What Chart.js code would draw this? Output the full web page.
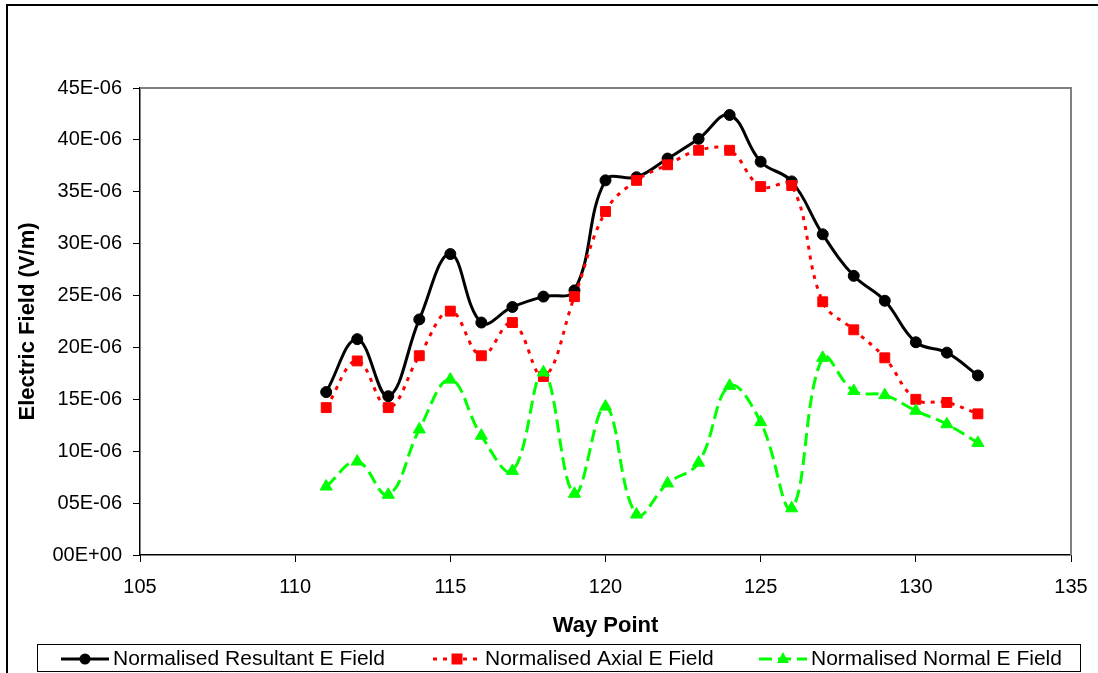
<!DOCTYPE html>
<html lang="en">
<head>
<meta charset="utf-8">
<title>Electric Field vs Way Point</title>
<script src="https://cdn.jsdelivr.net/npm/chart.js@4.4.1/dist/chart.umd.min.js"></script>
<style>
  html,body{margin:0;padding:0;background:#fff;overflow:hidden;}
  canvas{display:block;}
</style>
</head>
<body>
<canvas id="chart" width="1098" height="673"></canvas>
<script>
// Values, in units of 1E-06 V/m.
const wayPoints = [111, 112, 113, 114, 115, 116, 117, 118, 119, 120, 121, 122, 123, 124, 125, 126, 127, 128, 129, 130, 131, 132];
const resultant = [15.7, 20.8, 15.3, 22.7, 29.0, 22.4, 23.9, 24.9, 25.5, 36.1, 36.4, 38.2, 40.1, 42.4, 37.9, 36.0, 30.9, 26.9, 24.5, 20.5, 19.5, 17.3];
const axial     = [14.2, 18.7, 14.2, 19.2, 23.5, 19.2, 22.4, 17.2, 24.9, 33.1, 36.1, 37.6, 39.0, 39.0, 35.5, 35.6, 24.4, 21.7, 19.0, 15.0, 14.7, 13.6];
const normal    = [6.6, 9.0, 5.8, 12.1, 16.9, 11.5, 8.1, 17.6, 5.9, 14.3, 3.9, 6.9, 8.9, 16.3, 12.8, 4.5, 19.0, 15.8, 15.4, 13.9, 12.6, 10.8];
const seriesNames = ['Normalised Resultant E Field', 'Normalised Axial E Field', 'Normalised Normal E Field'];
const xTicks = [105, 110, 115, 120, 125, 130, 135];
const yTicks = [0, 5, 10, 15, 20, 25, 30, 35, 40, 45];

const FONT = "'Liberation Sans', Arial, sans-serif";
Chart.defaults.font.family = FONT;
Chart.defaults.color = '#000';

const pts = arr => wayPoints.map((x, i) => ({ x, y: arr[i] }));
const fmtY = v => v === 0 ? '00E+00' : String(v).padStart(2, '0') + 'E-06';

// gray frame on top/right of the plot, outer chart border, bordered legend
const excelFrame = {
  id: 'excelFrame',
  beforeDatasetsDraw(chart) {
    const { ctx, chartArea: a } = chart;
    ctx.save();
    ctx.strokeStyle = '#808080';
    ctx.lineWidth = 2;
    ctx.beginPath();
    ctx.moveTo(a.left, a.top); ctx.lineTo(a.right, a.top); ctx.lineTo(a.right, a.bottom);
    ctx.stroke();
    ctx.restore();
  },
  afterDraw(chart) {
    const ctx = chart.ctx;
    ctx.save();
    ctx.strokeStyle = '#000';
    ctx.lineWidth = 2;
    ctx.beginPath();
    ctx.moveTo(7, 700); ctx.lineTo(7, 5); ctx.lineTo(1110, 5);
    ctx.stroke();

    ctx.lineWidth = 1;
    ctx.strokeRect(37.5, 644.5, 1043, 27);

    const textX = [113, 485, 811];
    const ly = 659;
    ctx.font = '21px ' + FONT;
    ctx.textBaseline = 'middle';
    ctx.textAlign = 'left';
    chart.data.datasets.forEach((ds, i) => {
      const x0 = textX[i] - 52, x1 = textX[i] - 4, cx = (x0 + x1) / 2;
      ctx.strokeStyle = ds.borderColor;
      ctx.fillStyle = ds.borderColor;
      ctx.lineWidth = ds.borderWidth;
      ctx.setLineDash(ds.borderDash || []);
      ctx.beginPath(); ctx.moveTo(x0, ly); ctx.lineTo(x1, ly); ctx.stroke();
      ctx.setLineDash([]);
      ctx.beginPath();
      if (ds.pointStyle === 'circle') {
        ctx.arc(cx, ly, 5.5, 0, Math.PI * 2);
      } else if (ds.pointStyle === 'rect') {
        ctx.rect(cx - 5.5, ly - 5.5, 11, 11);
      } else {
        ctx.moveTo(cx, ly - 7); ctx.lineTo(cx + 6, ly + 4); ctx.lineTo(cx - 6, ly + 4); ctx.closePath();
      }
      ctx.fill();
      ctx.fillStyle = '#000';
      ctx.fillText(ds.label, textX[i], ly);
    });
    ctx.restore();
  }
};

new Chart(document.getElementById('chart'), {
  type: 'line',
  data: {
    datasets: [
      { label: seriesNames[0], data: pts(resultant), order: 3,
        borderColor: '#000000', backgroundColor: '#000000', borderWidth: 3,
        pointStyle: 'circle', pointRadius: 5.5, pointBorderWidth: 1,
        pointBackgroundColor: '#000000', pointBorderColor: '#000000', tension: 0.4 },
      { label: seriesNames[1], data: pts(axial), order: 2,
        borderColor: '#ff0000', backgroundColor: '#ff0000', borderWidth: 3, borderDash: [4, 6],
        pointStyle: 'rect', pointRadius: 7, pointBorderWidth: 1,
        pointBackgroundColor: '#ff0000', pointBorderColor: '#ff0000', tension: 0.4 },
      { label: seriesNames[2], data: pts(normal), order: 1,
        borderColor: '#00ff00', backgroundColor: '#00ff00', borderWidth: 3, borderDash: [13, 6],
        pointStyle: 'triangle', pointRadius: 7, pointBorderWidth: 1,
        pointBackgroundColor: '#00ff00', pointBorderColor: '#00ff00', tension: 0.4 }
    ]
  },
  options: {
    responsive: false,
    animation: false,
    events: [],
    layout: { padding: { top: 88, right: 27, bottom: 0, left: 0 } },
    plugins: { legend: { display: false }, tooltip: { enabled: false } },
    scales: {
      x: {
        type: 'linear', position: 'bottom', min: 105, max: 135,
        afterBuildTicks: s => { s.ticks = xTicks.map(v => ({ value: v })); },
        afterFit: s => { s.height = 118; s.paddingLeft = 0; s.paddingRight = 0; },
        grid: { drawOnChartArea: false, tickLength: 7, color: '#000' },
        border: { color: '#000', width: 1.5 },
        ticks: { padding: 13, maxRotation: 0, color: '#000', font: { size: 20 } },
        title: { display: true, text: 'Way Point', color: '#000',
                 font: { size: 22, weight: 'bold' }, padding: { top: 0, bottom: 34 } }
      },
      y: {
        type: 'linear', min: 0, max: 45,
        afterBuildTicks: s => { s.ticks = yTicks.map(v => ({ value: v })); },
        afterFit: s => { s.width = 140; s.paddingTop = 0; s.paddingBottom = 0; },
        grid: { drawOnChartArea: false, tickLength: 7, color: '#000' },
        border: { color: '#000', width: 1.5 },
        ticks: { padding: 11, color: '#000', font: { size: 20 }, callback: v => fmtY(v) },
        title: { display: true, text: 'Electric Field (V/m)', color: '#000',
                 font: { size: 22, weight: 'bold' }, padding: { top: 15, bottom: 0 } }
      }
    }
  },
  plugins: [excelFrame]
});
</script>
</body>
</html>
